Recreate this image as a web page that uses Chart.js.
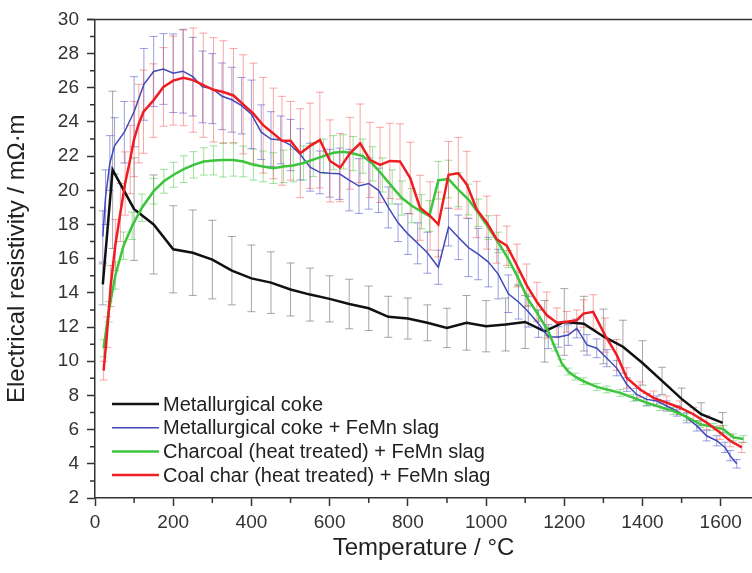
<!DOCTYPE html>
<html>
<head>
<meta charset="utf-8">
<script src="https://cdn.jsdelivr.net/npm/chart.js@4.4.0/dist/chart.umd.min.js"></script>
<style>
  html, body { margin: 0; padding: 0; background: #fff; }
  #wrap { width: 752px; height: 573px; }
</style>
</head>
<body>
<div id="wrap"><canvas id="resistivityChart" width="752" height="573"></canvas></div>
<script>
// axis ticks
const xTicks = [0, 200, 400, 600, 800, 1000, 1200, 1400, 1600];
const xMinorTicks = [100, 300, 500, 700, 900, 1100, 1300, 1500];
const yTicks = [2, 4, 6, 8, 10, 12, 14, 16, 18, 20, 22, 24, 26, 28, 30];
const yMinorTicks = [3, 5, 7, 9, 11, 13, 15, 17, 19, 21, 23, 25, 27, 29];

const seriesNames = [
  'Metallurgical coke',
  'Metallurgical coke + FeMn slag',
  'Charcoal (heat treated) + FeMn slag',
  'Coal char (heat treated) + FeMn slag'
];

// Metallurgical coke
const cokeTemp = [20, 45, 100, 150, 200, 250, 300, 350, 400, 450, 500, 550, 600, 650, 700, 750, 800, 850, 900, 950,
  1000, 1050, 1100, 1150, 1200, 1250, 1300, 1350, 1400, 1450, 1500, 1550, 1605];
const cokeRes = [14.5, 21.2, 18.9, 18.0, 16.55, 16.35, 15.95, 15.3, 14.85, 14.6, 14.2, 13.9, 13.65, 13.35, 13.1, 12.6, 12.5, 12.25, 11.95, 12.25,
  12.05, 12.15, 12.3, 11.75, 12.3, 12.2, 11.45, 10.85, 9.9, 8.85, 7.8, 6.9, 6.4];
const cokeErr = [1.2, 4.6, 3.0, 2.9, 2.55, 2.5, 2.3, 2.0, 1.95, 1.8, 1.55, 1.55, 1.35, 1.45, 1.3, 1.2, 1.2, 1.05, 1.15, 1.6,
  1.5, 1.55, 1.55, 1.8, 1.95, 1.6, 1.6, 1.55, 1.3, 0.8, 0.63, 0.67, 0.6];

// Metallurgical coke + FeMn slag
const cokeSlagTemp = [20, 27, 38, 50, 75, 100, 125, 150, 175, 200, 225, 250, 275, 300, 325, 350, 375, 400, 425, 450,
  475, 500, 525, 550, 575, 600, 625, 650, 675, 700, 725, 750, 775, 800, 825, 850, 878, 904, 929, 955,
  980, 1006, 1031, 1057, 1083, 1108, 1134, 1159, 1185, 1210, 1232, 1258, 1283, 1309, 1334, 1360, 1385, 1411, 1437, 1462,
  1488, 1513, 1539, 1564, 1590, 1611, 1624, 1641];
const cokeSlagRes = [17.3, 19.6, 21.6, 22.6, 23.4, 24.6, 26.2, 26.95, 27.1, 26.85, 26.97, 26.65, 26.05, 25.95, 25.5, 25.3, 24.95, 24.45, 23.4, 23.0,
  22.95, 22.65, 22.1, 21.35, 21.05, 21.0, 20.97, 20.6, 20.25, 20.4, 20.0, 19.0, 18.1, 17.45, 16.9, 16.35, 15.5, 17.85, 17.25, 16.65,
  16.27, 15.8, 15.1, 13.95, 13.47, 12.9, 12.2, 11.44, 11.42, 11.53, 11.92, 10.96, 10.76, 10.18, 9.6, 8.64, 8.06, 7.77, 7.67, 7.38,
  7.09, 6.7, 6.22, 5.64, 5.35, 4.96, 4.48, 4.0];
const cokeSlagErr = [1.5, 1.6, 1.6, 1.65, 1.8, 2.05, 2.1, 2.05, 2.07, 2.3, 2.45, 2.3, 2.1, 2.05, 1.95, 1.9, 1.65, 2.0, 1.6, 1.6,
  1.4, 1.5, 1.5, 1.4, 1.25, 1.4, 1.5, 1.8, 1.6, 1.5, 1.3, 1.2, 1.1, 1.2, 1.2, 1.2, 1.0, 1.1, 1.3, 1.7,
  1.5, 1.45, 1.45, 1.1, 1.0, 0.9, 0.8, 0.7, 0.6, 0.6, 0.55, 0.6, 0.55, 0.5, 0.45, 0.4, 0.35, 0.35, 0.3, 0.3,
  0.3, 0.3, 0.3, 0.3, 0.3, 0.3, 0.3, 0.25];

// Charcoal (heat treated) + FeMn slag
const charcoalTemp = [22, 35, 52, 73, 95, 120, 150, 176, 201, 227, 252, 278, 303, 328, 354, 379, 405, 430, 456, 482,
  507, 533, 558, 584, 610, 635, 660, 685, 710, 735, 760, 785, 810, 835, 855, 878, 904, 929, 955, 980,
  1006, 1031, 1057, 1083, 1108, 1134, 1159, 1176, 1193, 1210, 1228, 1249, 1283, 1309, 1343, 1377, 1411, 1445, 1479, 1513,
  1547, 1581, 1607, 1632, 1658];
const charcoalRes = [10.76, 12.89, 15.02, 16.76, 17.92, 18.98, 19.95, 20.53, 20.91, 21.24, 21.49, 21.69, 21.75, 21.78, 21.78, 21.69, 21.5, 21.4, 21.3, 21.4,
  21.45, 21.6, 21.8, 22.0, 22.2, 22.25, 22.15, 22.0, 21.55, 20.9, 20.2, 19.55, 19.1, 18.75, 18.5, 20.59, 20.66, 20.04, 19.46, 18.69,
  17.82, 16.95, 15.98, 14.82, 13.6, 12.7, 11.75, 10.8, 9.9, 9.4, 9.1, 8.83, 8.5, 8.35, 8.15, 7.86, 7.57, 7.32, 7.09, 6.74,
  6.32, 6.16, 6.03, 5.55, 5.45];
const charcoalErr = [0.5, 0.6, 0.8, 0.8, 0.8, 0.8, 0.75, 0.7, 0.73, 0.78, 0.77, 0.8, 0.85, 1.0, 0.95, 0.9, 0.9, 0.9, 0.9, 0.95,
  0.95, 1.0, 1.0, 1.0, 1.0, 1.0, 1.0, 1.0, 1.0, 1.0, 1.0, 1.0, 1.0, 1.0, 0.9, 1.1, 1.1, 1.0, 0.9, 0.8,
  0.7, 0.6, 0.5, 0.4, 0.35, 0.3, 0.25, 0.2, 0.2, 0.2, 0.2, 0.2, 0.2, 0.2, 0.2, 0.2, 0.2, 0.2, 0.2, 0.2,
  0.2, 0.2, 0.2, 0.2, 0.2];

// Coal char (heat treated) + FeMn slag
const coalCharTemp = [22, 31, 40, 52, 65, 77, 90, 100, 112, 124, 149, 175, 200, 226, 251, 277, 303, 328, 354, 379,
  405, 430, 456, 478, 500, 525, 550, 575, 601, 627, 652, 678, 703, 729, 754, 780, 806, 831, 857, 878,
  904, 929, 951, 976, 1002, 1027, 1053, 1079, 1104, 1130, 1155, 1181, 1206, 1232, 1249, 1274, 1304, 1334, 1360, 1394,
  1428, 1462, 1496, 1530, 1564, 1598, 1624, 1654];
const coalCharRes = [9.45, 11.7, 14.4, 16.8, 18.7, 20.4, 21.8, 23.0, 23.9, 24.6, 25.25, 26.05, 26.42, 26.58, 26.45, 26.15, 25.88, 25.75, 25.55, 25.03,
  24.49, 23.81, 23.33, 22.9, 22.9, 22.17, 22.6, 22.94, 21.72, 21.33, 22.17, 22.75, 21.78, 21.49, 21.72, 21.69, 20.72, 18.98, 18.5, 18.0,
  20.91, 21.0, 20.33, 18.88, 18.11, 17.14, 16.76, 15.6, 14.44, 13.47, 12.7, 12.25, 12.31, 12.4, 12.79, 12.89, 11.53, 10.37, 9.02, 8.35,
  7.86, 7.57, 7.28, 6.9, 6.41, 5.83, 5.35, 4.96];
const coalCharErr = [0.55, 0.9, 1.2, 1.5, 1.7, 1.85, 2.0, 2.2, 2.3, 2.43, 2.15, 2.3, 2.6, 2.8, 3.05, 3.05, 3.05, 3.0, 2.75, 2.9,
  2.95, 2.8, 2.65, 2.6, 2.3, 2.6, 2.5, 2.8, 2.4, 2.0, 2.1, 2.3, 2.2, 2.2, 2.2, 2.2, 2.1, 1.9, 2.0, 1.9,
  1.95, 2.1, 1.95, 1.65, 1.55, 1.4, 1.15, 1.25, 1.25, 1.15, 1.35, 0.87, 0.6, 0.6, 0.8, 1.0, 1.0, 0.9, 0.6, 0.45,
  0.4, 0.4, 0.4, 0.4, 0.4, 0.4, 0.35, 0.3];

const toPoints = (xs, ys) => xs.map((x, i) => ({ x: x, y: ys[i] }));

function lineSet(i, temps, res, errs, color, barColor, width, order) {
  return {
    label: seriesNames[i],
    data: toPoints(temps, res),
    errors: errs,
    errorColor: barColor,
    borderColor: color,
    backgroundColor: color,
    borderWidth: width,
    pointRadius: 0,
    tension: 0,
    fill: false,
    order: order
  };
}

// vertical error bars drawn under the lines
const errorBarsPlugin = {
  id: 'errorBars',
  beforeDatasetsDraw(chart) {
    const ctx = chart.ctx;
    const yScale = chart.scales.y;
    ctx.save();
    ctx.lineWidth = 1;
    chart.data.datasets.forEach((ds, i) => {
      const meta = chart.getDatasetMeta(i);
      ctx.strokeStyle = ds.errorColor;
      meta.data.forEach((pt, j) => {
        const v = ds.data[j].y;
        const e = ds.errors[j];
        const yTop = yScale.getPixelForValue(v + e);
        const yBot = yScale.getPixelForValue(v - e);
        ctx.beginPath();
        ctx.moveTo(pt.x, yTop);
        ctx.lineTo(pt.x, yBot);
        ctx.moveTo(pt.x - 4, yTop);
        ctx.lineTo(pt.x + 4, yTop);
        ctx.moveTo(pt.x - 4, yBot);
        ctx.lineTo(pt.x + 4, yBot);
        ctx.stroke();
      });
    });
    ctx.restore();
  }
};

// top frame line, minor ticks and the legend inside the plot
const frameLegendPlugin = {
  id: 'frameLegend',
  afterDraw(chart) {
    const { ctx, chartArea, scales } = chart;
    ctx.save();
    ctx.strokeStyle = '#333';
    ctx.lineWidth = 1.5;
    ctx.beginPath();
    ctx.moveTo(chartArea.left - 8, chartArea.top);
    ctx.lineTo(chartArea.right, chartArea.top);
    xMinorTicks.forEach(v => {
      const x = scales.x.getPixelForValue(v);
      ctx.moveTo(x, chartArea.bottom);
      ctx.lineTo(x, chartArea.bottom + 5);
    });
    yMinorTicks.forEach(v => {
      const y = scales.y.getPixelForValue(v);
      ctx.moveTo(chartArea.left - 5, y);
      ctx.lineTo(chartArea.left, y);
    });
    ctx.stroke();

    ctx.font = '20px "Liberation Sans", Arial, sans-serif';
    ctx.textBaseline = 'middle';
    ctx.fillStyle = '#222';
    const order = [0, 1, 2, 3];
    order.forEach((i, row) => {
      const ds = chart.data.datasets[i];
      const y = 404 + row * 23.7;
      ctx.strokeStyle = ds.borderColor;
      ctx.lineWidth = ds.borderWidth;
      ctx.beginPath();
      ctx.moveTo(chartArea.left + 17, y);
      ctx.lineTo(chartArea.left + 64, y);
      ctx.stroke();
      ctx.fillText(ds.label, chartArea.left + 68, y + 1);
    });
    ctx.restore();
  }
};

const ctx = document.getElementById('resistivityChart').getContext('2d');
new Chart(ctx, {
  type: 'line',
  data: {
    datasets: [
      lineSet(0, cokeTemp, cokeRes, cokeErr, '#111111', 'rgba(120,120,120,0.65)', 2.5, 3),
      lineSet(1, cokeSlagTemp, cokeSlagRes, cokeSlagErr, '#4149b8', 'rgba(70,80,200,0.55)', 1.5, 2),
      lineSet(2, charcoalTemp, charcoalRes, charcoalErr, '#3dc43d', 'rgba(60,200,60,0.5)', 2.5, 1),
      lineSet(3, coalCharTemp, coalCharRes, coalCharErr, '#ee1d23', 'rgba(240,60,60,0.45)', 2.5, 0)
    ]
  },
  options: {
    responsive: false,
    animation: false,
    layout: {
      padding: { top: 15, right: 0, left: 0, bottom: 0 }
    },
    plugins: {
      legend: { display: false },
      tooltip: { enabled: false },
      title: { display: false }
    },
    scales: {
      x: {
        type: 'linear',
        min: 0,
        max: 1680,
        afterBuildTicks: s => { s.ticks = xTicks.map(v => ({ value: v })); },
        afterFit: s => { s.height = 75; },
        ticks: {
          color: '#333',
          font: { family: '"Liberation Sans", Arial, sans-serif', size: 19 },
          padding: 5,
          maxRotation: 0,
          callback: v => String(v)
        },
        grid: {
          drawOnChartArea: false,
          tickLength: 8,
          tickColor: '#333',
          tickWidth: 1.5
        },
        border: { color: '#333', width: 1.5 },
        title: {
          display: true,
          text: 'Temperature / °C',
          color: '#222',
          font: { family: '"Liberation Sans", Arial, sans-serif', size: 24 },
          padding: { top: 0, bottom: 10 }
        }
      },
      y: {
        min: 2,
        max: 30,
        afterBuildTicks: s => { s.ticks = yTicks.map(v => ({ value: v })); },
        afterFit: s => { s.width = 95; },
        ticks: {
          color: '#333',
          font: { family: '"Liberation Sans", Arial, sans-serif', size: 19 },
          padding: 8,
          callback: v => String(v)
        },
        grid: {
          drawOnChartArea: false,
          tickLength: 8,
          tickColor: '#333',
          tickWidth: 1.5
        },
        border: { color: '#333', width: 1.5 },
        title: {
          display: true,
          text: 'Electrical resistivity / mΩ·m',
          color: '#222',
          font: { family: '"Liberation Sans", Arial, sans-serif', size: 24 },
          padding: { top: 3, bottom: 0 }
        }
      }
    }
  },
  plugins: [errorBarsPlugin, frameLegendPlugin]
});
</script>
</body>
</html>
